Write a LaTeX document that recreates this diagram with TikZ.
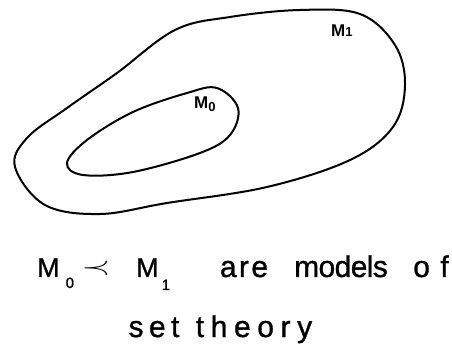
\documentclass[tikz,border=0pt]{standalone}
\usepackage{fontspec}
\setmainfont{Liberation Sans}
\newcommand{\subdigit}[3]{\raisebox{#1}{\fontsize{#2}{#2}\selectfont #3}}
\begin{document}
\begin{tikzpicture}[x=1pt,y=-1pt,
  blob/.style={line width=2pt, line join=round},
  lbl/.style={font=\bfseries\fontsize{17}{19}\selectfont, inner sep=0pt, anchor=base west},
  captext/.style={font=\fontsize{30}{32}\selectfont\addfontfeature{FakeBold=1}, inner sep=0pt, anchor=base}]
\useasboundingbox (0,0) rectangle (452,352);
% outer model M1
\draw[blob] plot[smooth cycle, tension=0.6] coordinates {
  (175,30) (230,17) (300,10) (360,14) (395,45) (405,85) (393,127)
  (350,160) (267,187) (167,203) (100,214) (45,205) (15,167) (27,138)
  (67,108) (117,73)};
% inner model M0
\draw[blob] plot[smooth cycle, tension=0.6] coordinates {
  (187,93) (217,88) (238,108) (230,135) (200,153) (133,172) (83,175)
  (67,163) (87,140) (133,112)};
\node[lbl] (m1) at (331,37) {M\subdigit{0pt}{13}{1}};
\node[lbl] (m0) at (194,109) {M\subdigit{-3pt}{13}{0}};
% caption, line 1
\node[captext, anchor=base west] (c0) at (37,277) {\fontsize{27}{30}\selectfont M\hspace{6pt}\subdigit{-11pt}{15}{0}};
\node[captext, anchor=center] (prec) at (96,268) {\scalebox{1.5}[1.0]{$\prec$}};
\node[captext, anchor=base west] (c1) at (136,277) {\fontsize{27}{30}\selectfont M\hspace{3pt}\subdigit{-13pt}{15}{1}};
\node[captext] (w1) at (244,277) {\addfontfeature{LetterSpace=8}are};
\node[captext] (w2) at (341,277) {\addfontfeature{LetterSpace=-2}models};
\node[captext] (w3) at (431,277) {\addfontfeature{LetterSpace=35}of};
% caption, line 2
\node[captext] (w4) at (154,337) {\addfontfeature{LetterSpace=18}set};
\node[captext] (w5) at (254,337) {\addfontfeature{LetterSpace=22}theory};
\end{tikzpicture}
\end{document}
